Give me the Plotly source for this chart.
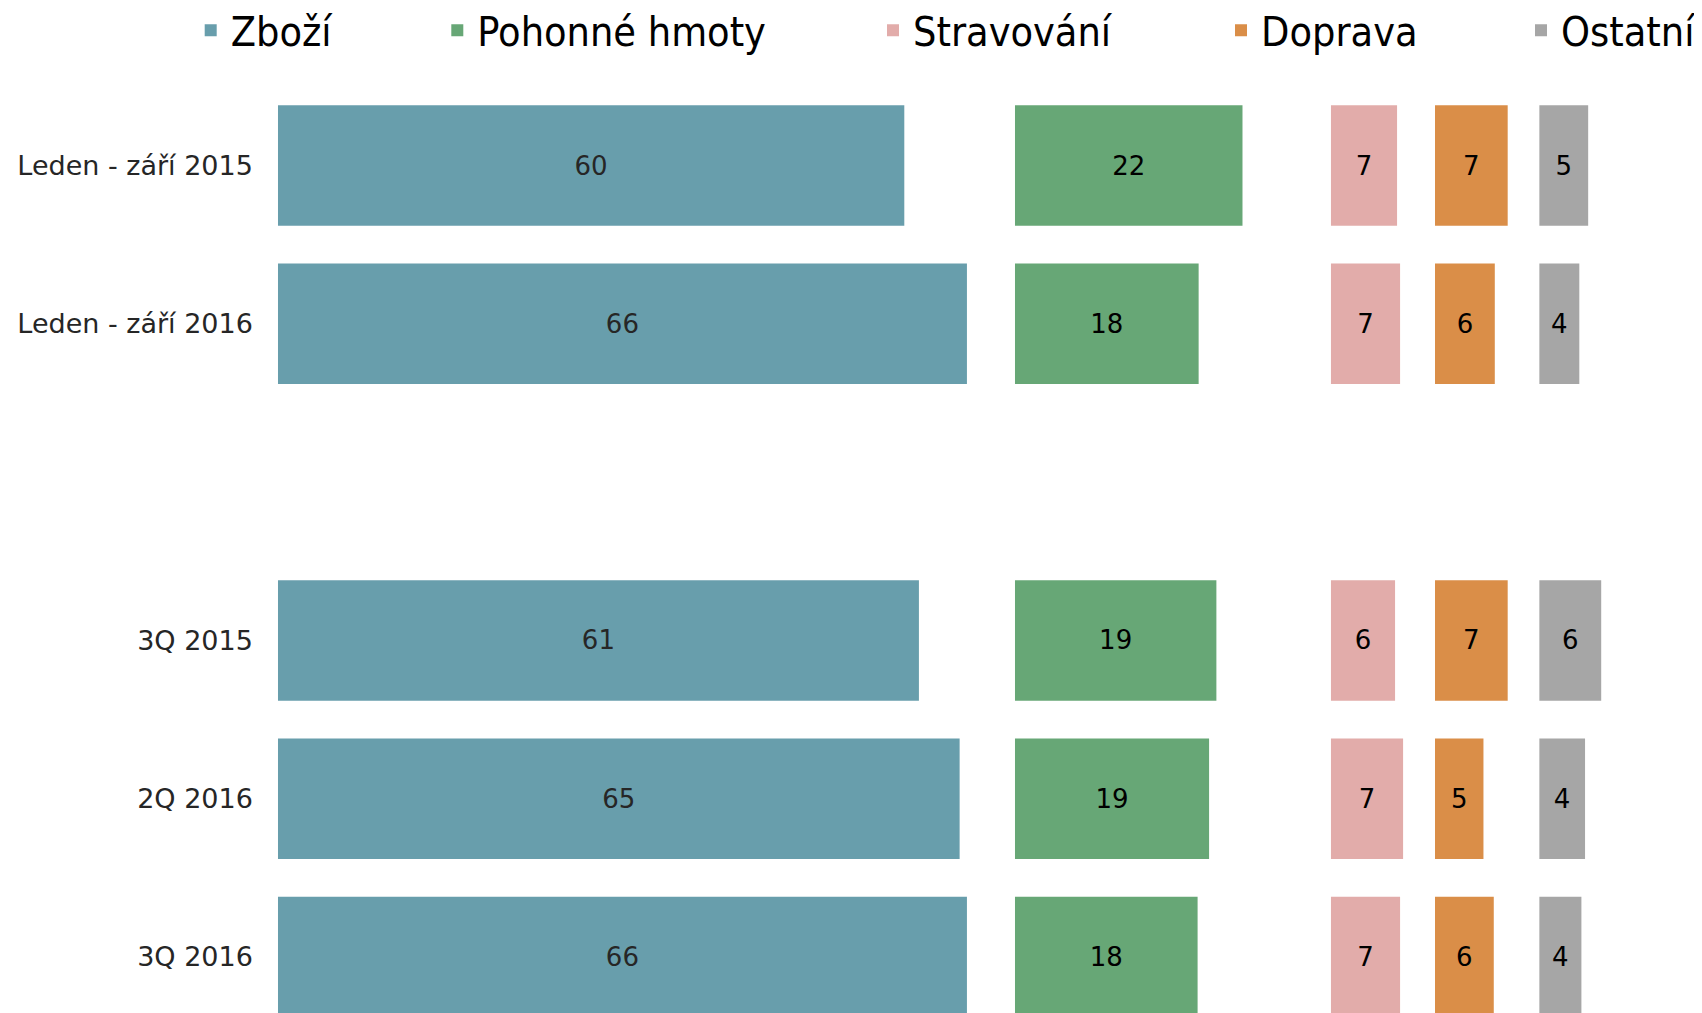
import plotly.graph_objects as go

# ---- data ----
categories = ["Leden - září 2015", "Leden - září 2016", "3Q 2015", "2Q 2016", "3Q 2016"]
series_names = ["Zboží", "Pohonné hmoty", "Stravování", "Doprava", "Ostatní"]
zbozi = [60.0, 66.0, 61.4, 65.3, 66.0]
pohonne_hmoty = [21.8, 17.6, 19.3, 18.6, 17.5]
stravovani = [6.6, 6.9, 6.4, 7.2, 6.9]
doprava = [7.05, 5.8, 7.05, 4.7, 5.7]
ostatni = [4.7, 3.85, 5.95, 4.4, 4.05]
series_values = [zbozi, pohonne_hmoty, stravovani, doprava, ostatni]

# ---- styling / layout ----
colors = ["#689EAC", "#67A776", "#E2ACAA", "#DA8E48", "#A6A6A6"]
text_colors = ["#262626", "#000000", "#000000", "#000000", "#000000"]
OFF = 8  # page body margin
W, H = 1702 - OFF, 1013 - OFF
panel_start_px = [277.9 - OFF, 1014.9 - OFF, 1330.8 - OFF, 1435.0 - OFF, 1539.2 - OFF]
panel_scale_px = [10.44, 10.44, 10.04, 10.31, 10.42]
panel_range = [70, 29, 10, 10, 14]
legend_text_px = [232.7 - OFF, 479.3 - OFF, 915.0 - OFF, 1263.0 - OFF, 1563.0 - OFF]
legend_center_y = 32.7 - OFF - 2

y_order = categories[:2] + [" "] + categories[2:]
top_m = 72
row_pitch = 158.3
first_center = 165.5 - OFF
plot_h = H - top_m
y_top = -(first_center - top_m) / row_pitch
y_bot = y_top + plot_h / row_pitch

fig = go.Figure()
layout_extra = {}
for i, (name, vals) in enumerate(zip(series_names, series_values)):
    ax = "" if i == 0 else str(i + 1)
    leg = "legend" if i == 0 else f"legend{i + 1}"
    fig.add_trace(go.Bar(
        y=categories, x=vals, orientation="h", name=name,
        xaxis="x" + ax, yaxis="y",
        marker=dict(color=colors[i], line=dict(width=0)),
        texttemplate="%{x:.0f}", textposition="inside",
        insidetextanchor="middle", textangle=0, constraintext="none",
        textfont=dict(family="DejaVu Sans, Verdana, sans-serif", size=26, color=text_colors[i]),
        legend=leg, hoverinfo="skip",
    ))
    d0 = panel_start_px[i] / W
    d1 = (panel_start_px[i] + panel_scale_px[i] * panel_range[i]) / W
    layout_extra["xaxis" + ax] = dict(domain=[d0, d1], range=[0, panel_range[i]],
                                       visible=False, anchor="y", fixedrange=True)
    layout_extra[leg] = dict(
        orientation="h", xref="container", yref="container",
        x=(legend_text_px[i] - 42) / W, xanchor="left",
        y=1 - legend_center_y / H, yanchor="middle",
        font=dict(family="DejaVu Sans Condensed, DejaVu Sans, sans-serif", size=41, color="#000000"),
        bgcolor="rgba(0,0,0,0)", borderwidth=0,
    )

fig.update_layout(
    width=W, height=H,
    template="none",
    paper_bgcolor="white", plot_bgcolor="white",
    margin=dict(l=0, r=0, t=top_m, b=0, pad=0),
    bargap=0.239,
    showlegend=True,
    yaxis=dict(
        type="category", categoryorder="array", categoryarray=y_order,
        range=[y_bot, y_top], showgrid=False, showline=False, zeroline=False,
        ticks="", ticklabelstandoff=24, anchor="x",
        tickfont=dict(family="DejaVu Sans, Verdana, sans-serif", size=27, color="#262626"),
        fixedrange=True,
    ),
    **layout_extra,
)

fig.write_html("out.html")
